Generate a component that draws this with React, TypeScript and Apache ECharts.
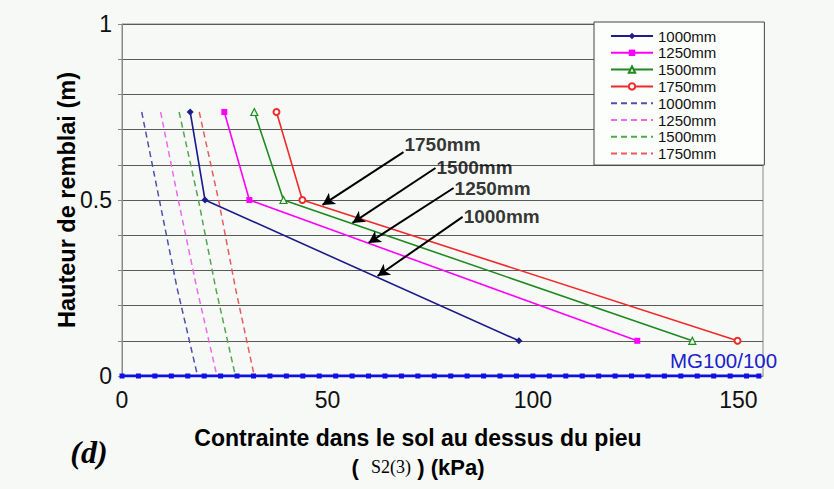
import { useEffect, useRef } from "react";
import * as echarts from "echarts";

// Solid curves (with markers): heights (m) and stresses (kPa)
const solidHeights = [0.75, 0.5, 0.1];
const solid1000 = [16.6, 20.2, 96.6];
const solid1250 = [24.9, 31.0, 125.4];
const solid1500 = [32.2, 39.3, 138.8];
const solid1750 = [37.6, 43.9, 149.8];

// Dashed curves
const dashHeights = [0.75, 0.5, 0.25, 0];
const dash1000 = [4.8, 9.1, 13.4, 18.4];
const dash1250 = [9.4, 13.7, 18.2, 23.1];
const dash1500 = [13.9, 18.6, 22.8, 27.6];
const dash1750 = [18.8, 23.5, 27.6, 32.2];

// MG100/100 reinforcement line at height 0
const mgX = [0, 4, 8, 12, 16, 20, 24, 28, 32, 36, 40, 44, 48, 52, 56, 60, 64, 68, 72, 76, 80, 84, 88, 92, 96, 100, 104, 108, 112, 116, 120, 124, 128, 132, 136, 140, 144, 148, 152, 155];

// Arrow annotations
const arrowLabels = ["1750mm", "1500mm", "1250mm", "1000mm"];
const arrowStartX = [68.5, 76.3, 80.7, 82.9];
const arrowStartY = [0.636, 0.591, 0.534, 0.452];
const arrowEndX = [48.8, 56.1, 60.0, 62.2];
const arrowEndY = [0.486, 0.435, 0.378, 0.284];

const xTicks = [0, 50, 100, 150];
const yTickLabels = [0, 0.5, 1];

const legendNames = ["1000mm", "1250mm", "1500mm", "1750mm", "1000mm-d", "1250mm-d", "1500mm-d", "1750mm-d"];

const solidColors = ["#1c1c8a", "#ff00ff", "#1f8a1f", "#f02a2a"];
const dashColors = ["#5050a8", "#ea6aea", "#4fa84f", "#ea5a5a"];

const pair = (xs: number[], ys: number[]) => xs.map((x, i) => [x, ys[i]]);

export default function App() {
  const ref = useRef<HTMLDivElement>(null);
  useEffect(() => {
    if (!ref.current) return;
    const chart = echarts.init(ref.current, undefined, { renderer: "svg" });
    const font = '"Liberation Sans", Arial, sans-serif';
    const solidSets = [solid1000, solid1250, solid1500, solid1750];
    const dashSets = [dash1000, dash1250, dash1500, dash1750];
    const symbols = ["diamond", "rect", "triangle", "emptyCircle"];
    const symbolSizes = [7, 6, 7, 6];

    const series: any[] = [];
    solidSets.forEach((s, i) => {
      series.push({
        name: legendNames[i],
        type: "line",
        data: pair(s, solidHeights),
        symbol: symbols[i],
        symbolSize: symbolSizes[i],
        showSymbol: true,
        color: solidColors[i],
        itemStyle: i === 2 ? { color: "#e8f4e8", borderColor: solidColors[i], borderWidth: 1.2 } : { color: solidColors[i] },
        lineStyle: { width: 1.6, color: solidColors[i] },
        z: 3,
      });
    });
    dashSets.forEach((s, i) => {
      series.push({
        name: legendNames[i + 4],
        type: "line",
        data: pair(s, dashHeights),
        symbol: "none",
        color: dashColors[i],
        lineStyle: { width: 1.5, type: [6, 4], color: dashColors[i] },
        z: 2,
      });
    });
    series.push({
      name: "MG100/100",
      type: "line",
      data: mgX.map((x) => [x, 0]),
      symbol: "rect",
      symbolSize: [5, 5],
      color: "#1010e0",
      lineStyle: { width: 3, color: "#1010e0" },
      z: 4,
    });
    series.push({
      name: "annotations",
      type: "scatter",
      data: arrowLabels.map((l, i) => ({
        value: [arrowStartX[i], arrowStartY[i]],
        name: l,
        label: i === 0 ? { offset: [0, -8] } : {},
      })),
      symbolSize: 0,
      label: {
        show: true,
        position: "right",
        distance: 1,
        formatter: (p: any) => p.name,
        color: "#000",
        fontSize: 19,
        fontWeight: "bold",
        fontFamily: font,
      },
      markLine: {
        silent: true,
        symbol: ["none", "arrow"],
        symbolSize: [10, 12],
        lineStyle: { color: "#000", width: 2, type: "solid" },
        label: { show: false },
        data: arrowLabels.map((_, i) => [
          { coord: [arrowStartX[i], arrowStartY[i]] },
          { coord: [arrowEndX[i], arrowEndY[i]] },
        ]),
      },
      z: 5,
    });

    const legendData = legendNames.map((n, i) =>
      i < 4 ? { name: n } : { name: n, itemStyle: { opacity: 0 } }
    );

    chart.setOption({
      animation: false,
      backgroundColor: "#f6f9f6",
      grid: {
        left: 122,
        right: 71,
        top: 24,
        bottom: 113,
        show: true,
        borderColor: "#888",
        borderWidth: 1,
        backgroundColor: "transparent",
      },
      legend: {
        data: legendData,
        orient: "vertical",
        left: 594,
        top: 22,
        padding: [6.5, 48, 4, 16],
        itemWidth: 42,
        itemHeight: 8,
        itemGap: 1.8,
        backgroundColor: "#fcfefc",
        borderColor: "#444",
        borderWidth: 1,
        borderRadius: 0,
        formatter: (n: string) => n.replace("-d", ""),
        textStyle: { fontSize: 15, color: "#111", fontFamily: font },
      },
      xAxis: {
        type: "value",
        min: 0,
        max: 156,
        interval: 50,
        axisLine: { show: true, lineStyle: { color: "#888" } },
        axisTick: { show: false },
        splitLine: { show: false },
        axisLabel: {
          margin: 12,
          fontSize: 23,
          color: "#111",
          fontFamily: font,
          formatter: (v: number) => (xTicks.includes(v) ? String(v) : ""),
        },
      },
      yAxis: {
        type: "value",
        min: 0,
        max: 1,
        interval: 0.1,
        axisLine: { show: true, lineStyle: { color: "#888" } },
        axisTick: { show: true, inside: false, length: 4, lineStyle: { color: "#888" } },
        splitLine: { show: true, lineStyle: { color: "#5a5a5a", width: 1 } },
        axisLabel: {
          margin: 10,
          fontSize: 23,
          color: "#111",
          fontFamily: font,
          formatter: (v: number) => (yTickLabels.some((t) => Math.abs(t - v) < 1e-6) ? String(v) : ""),
        },
      },
      series,
      graphic: [
        {
          type: "text",
          x: 67,
          y: 200,
          rotation: Math.PI / 2,
          style: {
            text: "Hauteur de remblai (m)",
            font: `bold 23.5px ${font}`,
            fill: "#000",
            align: "center",
            verticalAlign: "middle",
          },
        },
        {
          type: "text",
          x: 418,
          y: 438,
          style: {
            text: "Contrainte dans le sol au dessus du pieu",
            font: `bold 23px ${font}`,
            fill: "#000",
            align: "center",
            verticalAlign: "middle",
          },
        },
        {
          type: "text",
          x: 418,
          y: 467,
          style: {
            text: "{a|(  }{b|S2(3)}{a| ) (kPa)}",
            align: "center",
            verticalAlign: "middle",
            rich: {
              a: { font: `bold 22px ${font}`, fill: "#000" },
              b: { font: '18px "Liberation Serif", "Times New Roman", serif', fill: "#000" },
            },
          },
        },
        {
          type: "text",
          x: 89,
          y: 452,
          style: {
            text: "(d)",
            font: 'italic bold 32px "Liberation Serif", "Times New Roman", serif',
            fill: "#000",
            align: "center",
            verticalAlign: "middle",
          },
        },
        {
          type: "text",
          x: 670,
          y: 360,
          style: {
            text: "MG100/100",
            font: `20.5px ${font}`,
            fill: "#2020cc",
            align: "left",
            verticalAlign: "middle",
          },
        },
      ],
    });
    return () => chart.dispose();
  }, []);
  return (
    <div
      ref={ref}
      style={{ position: "absolute", left: 0, top: 0, width: 834, height: 489 }}
    />
  );
}
